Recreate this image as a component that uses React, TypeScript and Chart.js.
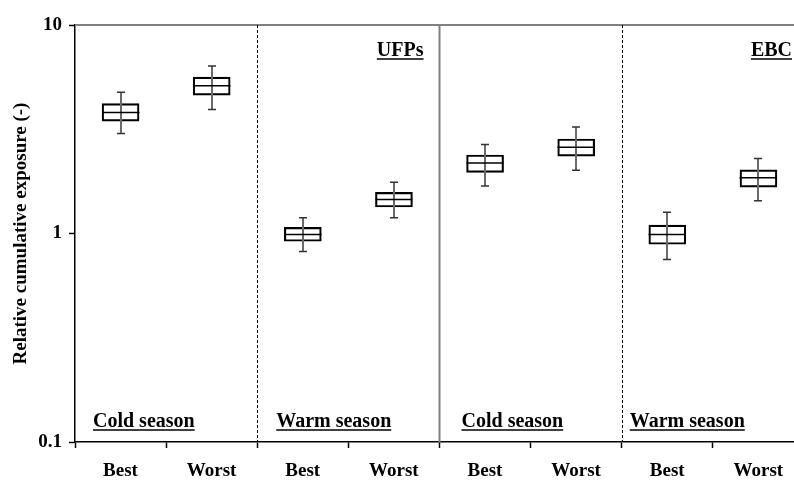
import React, { useEffect, useRef } from "react";
import { Chart, registerables } from "chart.js";

Chart.register(...registerables);

const categories = ["Best", "Worst", "Best", "Worst", "Best", "Worst", "Best", "Worst"];
const whiskerLow = [3.02, 3.93, 0.82, 1.19, 1.69, 2.01, 0.75, 1.436];
const boxLow = [3.46, 4.61, 0.918, 1.34, 1.965, 2.35, 0.888, 1.67];
const medians = [3.8, 5.11, 0.99, 1.457, 2.18, 2.59, 0.989, 1.85];
const boxHigh = [4.2, 5.62, 1.07, 1.575, 2.38, 2.84, 1.096, 2.02];
const whiskerHigh = [4.76, 6.35, 1.19, 1.76, 2.67, 3.24, 1.266, 2.29];
const yTicks = [0.1, 1, 10];
const seasonLabels = ["Cold season", "Warm season", "Cold season", "Warm season"];
const pollutantLabels = ["UFPs", "EBC"];
const yTitle = "Relative cumulative exposure (-)";

const FONT = "'Liberation Serif', 'Times New Roman', serif";

const boxPlugin = {
  id: "boxExtras",
  beforeDatasetsDraw(chart: any) {
    const { ctx, chartArea, scales } = chart;
    const xs = scales.x;
    ctx.save();
    ctx.strokeStyle = "#808080";
    ctx.lineWidth = 2;
    ctx.beginPath();
    ctx.moveTo(chartArea.left, chartArea.top);
    ctx.lineTo(chartArea.right, chartArea.top);
    ctx.stroke();
    ctx.strokeStyle = "#000";
    ctx.lineWidth = 1;
    ctx.setLineDash([3, 2]);
    [2, 6].forEach((b) => {
      const px = Math.round(xs.getPixelForValue(b)) + 0.5;
      ctx.beginPath();
      ctx.moveTo(px, chartArea.top);
      ctx.lineTo(px, chartArea.bottom);
      ctx.stroke();
    });
    ctx.setLineDash([]);
    ctx.strokeStyle = "#808080";
    ctx.lineWidth = 2;
    const sx = xs.getPixelForValue(4);
    ctx.beginPath();
    ctx.moveTo(sx, chartArea.top);
    ctx.lineTo(sx, chartArea.bottom);
    ctx.stroke();
    ctx.restore();
  },
  afterDatasetsDraw(chart: any) {
    const { ctx, scales } = chart;
    const xs = scales.x;
    const ys = scales.y;
    ctx.save();
    categories.forEach((_, i) => {
      const cx = Math.round(xs.getPixelForValue(i + 0.5));
      const yHi = ys.getPixelForValue(whiskerHigh[i]);
      const yLo = ys.getPixelForValue(whiskerLow[i]);
      ctx.strokeStyle = "#6a6a6a";
      ctx.lineWidth = 2;
      ctx.beginPath();
      ctx.moveTo(cx, yHi);
      ctx.lineTo(cx, yLo);
      ctx.stroke();
      ctx.strokeStyle = "#333";
      ctx.lineWidth = 1.5;
      ctx.beginPath();
      ctx.moveTo(cx - 4, yHi);
      ctx.lineTo(cx + 4, yHi);
      ctx.moveTo(cx - 4, yLo);
      ctx.lineTo(cx + 4, yLo);
      ctx.stroke();
      const ym = ys.getPixelForValue(medians[i]);
      ctx.strokeStyle = "#000";
      ctx.lineWidth = 1.5;
      ctx.beginPath();
      ctx.moveTo(cx - 18.5, ym);
      ctx.lineTo(cx + 18.5, ym);
      ctx.stroke();
    });
    ctx.restore();
  },
  afterDraw(chart: any) {
    const { ctx, chartArea, scales } = chart;
    const xs = scales.x;
    ctx.save();
    ctx.font = `bold 20px ${FONT}`;
    ctx.fillStyle = "#000";
    ctx.strokeStyle = "#000";
    ctx.lineWidth = 1.5;
    ctx.textBaseline = "alphabetic";
    const seasonOffsets = [18, 19, 22, 8];
    const baseY = chartArea.bottom - 15;
    seasonLabels.forEach((t, k) => {
      const left = xs.getPixelForValue(k * 2) + seasonOffsets[k];
      ctx.textAlign = "left";
      ctx.fillText(t, left, baseY);
      const w = ctx.measureText(t).width;
      ctx.beginPath();
      ctx.moveTo(left, baseY + 3);
      ctx.lineTo(left + w, baseY + 3);
      ctx.stroke();
    });
    const rights = [xs.getPixelForValue(4) - 16, chartArea.right - 2];
    const topY = chartArea.top + 31;
    pollutantLabels.forEach((t, k) => {
      const w = ctx.measureText(t).width;
      const left = rights[k] - w;
      ctx.textAlign = "left";
      ctx.fillText(t, left, topY);
      ctx.beginPath();
      ctx.moveTo(left, topY + 3);
      ctx.lineTo(left + w, topY + 3);
      ctx.stroke();
    });
    ctx.restore();
  },
};

export default function App() {
  const ref = useRef<HTMLCanvasElement | null>(null);
  useEffect(() => {
    if (!ref.current) return;
    const chart = new Chart(ref.current, {
      type: "bar",
      data: {
        datasets: [
          {
            data: categories.map((_, i) => ({ x: i + 0.5, y: [boxLow[i], boxHigh[i]] })) as any,
            backgroundColor: "rgba(255,255,255,0)",
            borderColor: "#000",
            borderWidth: 1.5,
            borderSkipped: false,
            barThickness: 37,
          },
        ],
      },
      options: {
        animation: false,
        responsive: true,
        maintainAspectRatio: false,
        layout: { padding: { top: 25, left: 0, right: 0, bottom: 0 } },
        plugins: { legend: { display: false }, tooltip: { enabled: false } },
        scales: {
          x: {
            type: "linear",
            offset: false,
            min: 0,
            max: 7.89,
            afterBuildTicks: (s: any) => {
              s.ticks = categories.map((_, i) => ({ value: i }));
            },
            afterFit: (s: any) => {
              s.height = 39;
              s.paddingLeft = 0;
              s.paddingRight = 0;
            },
            grid: { drawOnChartArea: false, drawTicks: true, tickLength: 6, color: "#000", tickWidth: 1.5, offset: false },
            border: { color: "#000", width: 1.5 },
            ticks: {
              callback: (_v: any, i: number) => categories[i],
              labelOffset: 45.5,
              maxRotation: 0,
              autoSkip: false,
              padding: 12,
              color: "#000",
              font: { family: FONT, size: 19, weight: "bold" },
            },
          },
          y: {
            type: "logarithmic",
            min: 0.1,
            max: 10,
            afterBuildTicks: (s: any) => {
              s.ticks = yTicks.map((v) => ({ value: v }));
            },
            afterFit: (s: any) => {
              s.width = 75;
              s.paddingTop = 0;
              s.paddingBottom = 0;
            },
            grid: { drawOnChartArea: false, drawTicks: true, tickLength: 6, color: "#000", tickWidth: 1.5 },
            border: { color: "#000", width: 1.5 },
            ticks: {
              callback: (v: any) => String(v),
              padding: 7,
              color: "#000",
              font: { family: FONT, size: 19, weight: "bold" },
            },
            title: {
              display: true,
              text: yTitle,
              color: "#000",
              font: { family: FONT, size: 19, weight: "bold" },
              padding: { top: 10, bottom: 0 },
            },
          },
        },
      },
      plugins: [boxPlugin],
    });
    return () => chart.destroy();
  }, []);
  return (
    <div style={{ position: "absolute", left: 0, top: 0, width: 794, height: 481, background: "#fff" }}>
      <canvas ref={ref} />
    </div>
  );
}
